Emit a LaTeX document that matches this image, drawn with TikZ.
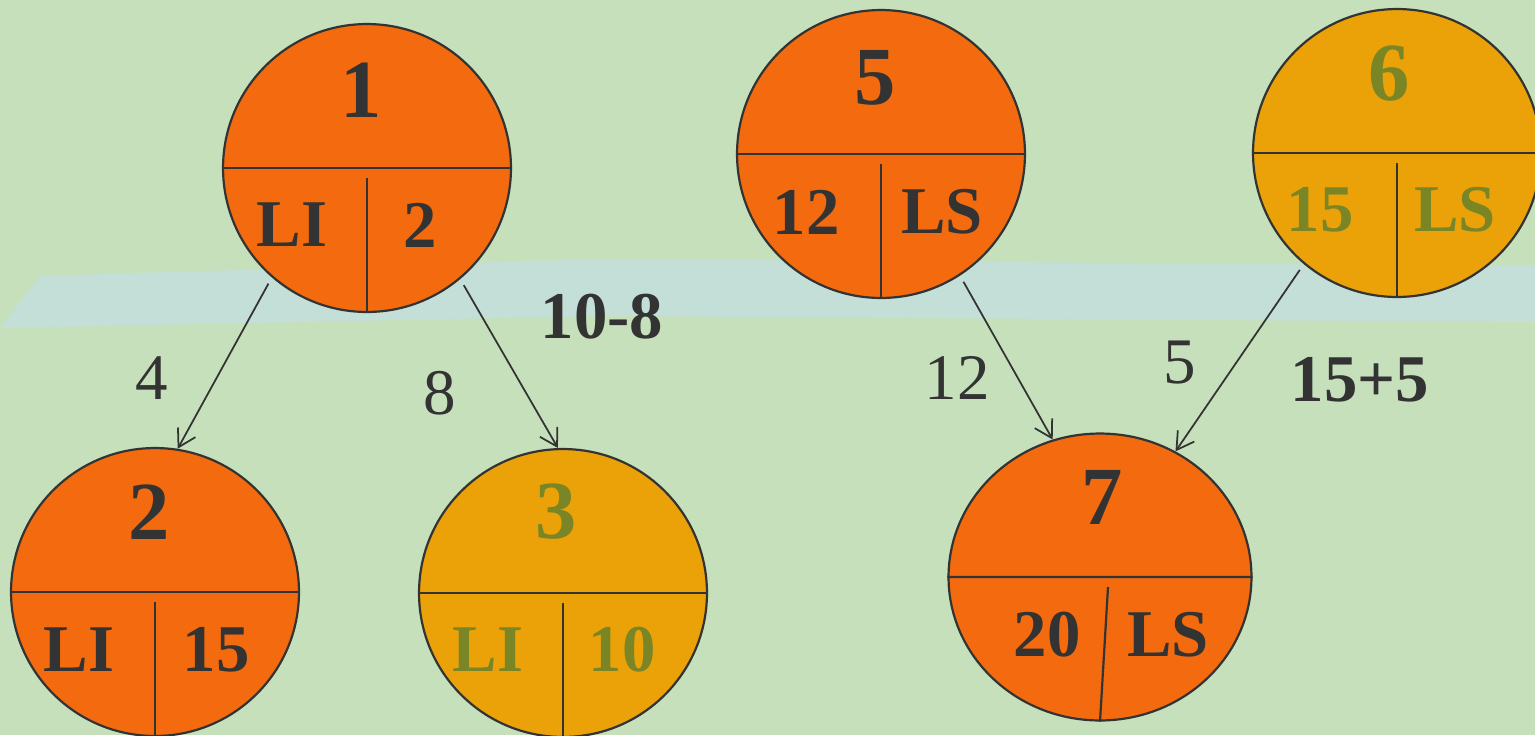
\documentclass[tikz,border=0pt]{standalone}
\usepackage{fontspec}
\setmainfont{Liberation Serif}
\usetikzlibrary{arrows.meta, shapes.geometric}
\definecolor{eventorange}{RGB}{243, 107, 14}
\definecolor{eventgold}{RGB}{234, 162, 8}
\definecolor{inkgray}{RGB}{51, 51, 51}
\definecolor{olivetext}{RGB}{122, 133, 38}
\definecolor{bggreen}{RGB}{198, 224, 188}
\definecolor{bgband}{RGB}{196, 222, 216}

\begin{document}
\begin{tikzpicture}[
    x=0.02cm, y=-0.02cm,
    event/.style={circle, draw=inkgray, line width=1.25pt, minimum size=5.76cm, inner sep=0pt, fill=eventorange},
    slack/.style={event, fill=eventgold},
    divider/.style={draw=inkgray, line width=1.25pt},
    bignum/.style={font=\fontsize{47}{50}\selectfont\bfseries, text=inkgray},
    cell/.style={font=\fontsize{38}{40}\selectfont\bfseries, text=inkgray},
    weight/.style={font=\fontsize{37}{40}\selectfont, text=inkgray},
    arrow/.style={-{Straight Barb[length=3.4mm, width=4mm]}, draw=inkgray, line width=1pt, shorten <=0.14cm}
]

% Background
\fill[bggreen] (0,0) rectangle (1535,735);
\fill[bgband] (0,328) -- (40,276) -- (600,259) -- (1535,266) -- (1535,322) -- (600,316) -- cycle;
\useasboundingbox (0,0) rectangle (1535,735);

% Events
\node[event] (n1) at (367,168) {};
\node[event] (n2) at (155,592) {};
\node[slack] (n3) at (563,593) {};
\node[event] (n5) at (881,154) {};
\node[slack] (n6) at (1397,153) {};
\node[event, ellipse, minimum width=6.06cm, minimum height=5.74cm] (n7) at (1100,577) {};

% Dividers
\draw[divider] (n1.west) -- (n1.east) (n1.center) ++(0,10) -- (n1.south);
\draw[divider] (n2.west) -- (n2.east) (n2.center) ++(0,10) -- (n2.south);
\draw[divider] (n3.west) -- (n3.east) (n3.center) ++(0,10) -- (n3.south);
\draw[divider] (n5.west) -- (n5.east) (n5.center) ++(0,10) -- (n5.south);
\draw[divider] (n6.west) -- (n6.east) (n6.center) ++(0,10) -- (n6.south);
\draw[divider] (n7.west) -- (n7.east) (n7.center) ++(8,10) -- (n7.south);

% Event labels
\node[bignum] (n1num) at (361,90) {1};
\node[cell] (n1left) at (292,225) {LI};
\node[cell] (n1right) at (420,225) {2};

\node[bignum] (n2num) at (149,512) {2};
\node[cell] (n2left) at (79,650) {LI};
\node[cell] (n2right) at (216,650) {15};

\node[bignum, text=olivetext] (n3num) at (556,512) {3};
\node[cell, text=olivetext] (n3left) at (488,650) {LI};
\node[cell, text=olivetext] (n3right) at (622,650) {10};

\node[bignum] (n5num) at (875,78) {5};
\node[cell] (n5left) at (806,212) {12};
\node[cell] (n5right) at (942,212) {LS};

\node[bignum, text=olivetext] (n6num) at (1389,74) {6};
\node[cell, text=olivetext] (n6left) at (1320,210) {15};
\node[cell, text=olivetext] (n6right) at (1455,210) {LS};

\node[bignum] (n7num) at (1102,497) {7};
\node[cell] (n7left) at (1047,635) {20};
\node[cell] (n7right) at (1168,635) {LS};

% Activities
\draw[arrow] (n1.229) -- (n2.81);
\draw[arrow] (n1.310) -- (n3.92);
\draw[arrow] (n5.303) -- (n7.109);
\draw[arrow] (n6.230) -- (n7.59);

% Durations
\node[weight] (d12) at (152,378) {4};
\node[weight] (d13) at (440,393) {8};
\node[weight] (d57) at (957,378) {12};
\node[weight] (d67) at (1180,363) {5};
\node[cell] (calc3) at (602,317) {10-8};
\node[cell] (calc7) at (1360,380) {15+5};

\end{tikzpicture}
\end{document}
